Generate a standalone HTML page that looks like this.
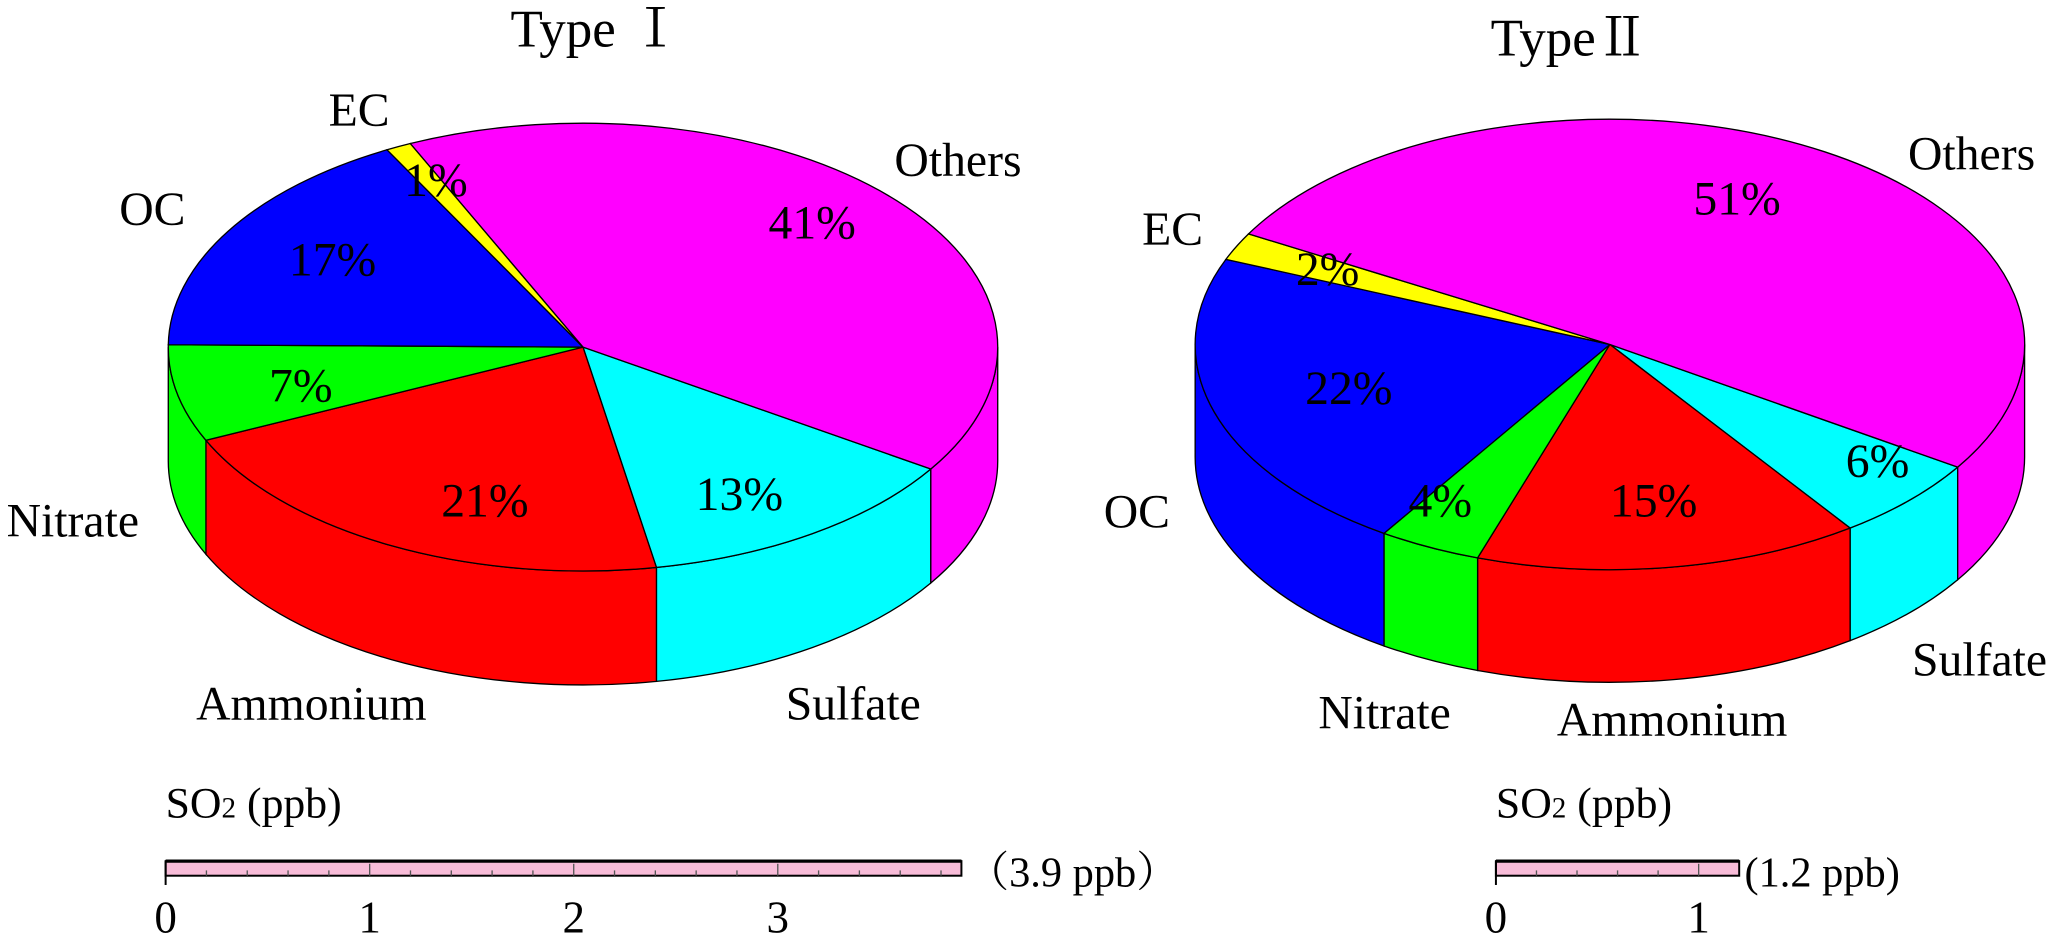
<!DOCTYPE html>
<html><head><meta charset="utf-8"><style>
html,body{margin:0;padding:0;background:#fff;}
svg{display:block;}
text{font-family:"Liberation Serif","Noto Serif CJK SC",serif;fill:#000;}
</style></head><body>
<svg id="chart" width="2067" height="934" viewBox="0 0 1560 705" preserveAspectRatio="none" xmlns="http://www.w3.org/2000/svg">
<g id="pies"></g>
<g id="labels" font-size="36"></g>
<g id="bars"></g>
</svg>
<script>
const categories = ["Sulfate","Ammonium","Nitrate","OC","EC","Others"];
const colors = ["#00ffff","#ff0000","#00ff00","#0000ff","#ffff00","#ff00ff"];
const type1Values = [13,21,7,17,1,41];
const type2Values = [6,15,4,22,2,51];
const so2Values = [3.9,1.2];
const so2Ticks1 = [0,1,2,3];
const so2Ticks2 = [0,1];

const NS="http://www.w3.org/2000/svg";
function mk(tag,attrs,parent){const e=document.createElementNS(NS,tag);for(const k in attrs)e.setAttribute(k,attrs[k]);parent.appendChild(e);return e;}
const pies=document.getElementById('pies');
const labels=document.getElementById('labels');
const bars=document.getElementById('bars');

function drawPie(id,values,cx,cy,rx,ry,depth,start){
  const g=mk('g',{},pies);
  
  
  const total=values.reduce((a,b)=>a+b,0);
  const P=(a,d)=>[cx+rx*Math.cos(a*Math.PI/180), cy+ry*Math.sin(a*Math.PI/180)+(d||0)];
  let angs=[];let a=start;
  values.forEach(v=>{const a1=a+v/total*360;angs.push([a,a1]);a=a1;});
  angs.forEach((r,i)=>{
    for(const off of [0,360]){
      let s=Math.max(r[0]-off,0), e=Math.min(r[1]-off,180);
      if(e<=s) continue;
      const p0=P(s),p1=P(e),q1=P(e,depth),q0=P(s,depth);
      const large=(e-s)>180?1:0;
      const d=`M${p0[0]},${p0[1]} A${rx},${ry} 0 ${large} 1 ${p1[0]},${p1[1]} L${q1[0]},${q1[1]} A${rx},${ry} 0 ${large} 0 ${q0[0]},${q0[1]} Z`;
      const p=mk('path',{d:d,fill:colors[i],stroke:'#000','stroke-width':1},g);
      
      
    }
  });
  angs.forEach((r,i)=>{
    const p0=P(r[0]),p1=P(r[1]);
    const large=(r[1]-r[0])>180?1:0;
    const d=`M${cx},${cy} L${p0[0]},${p0[1]} A${rx},${ry} 0 ${large} 1 ${p1[0]},${p1[1]} Z`;
    const p=mk('path',{d:d,fill:colors[i],stroke:'#000','stroke-width':1},g);
    
    
  });
}
drawPie('pie-type-1',type1Values,440,262,313,169,86,33);
drawPie('pie-type-2',type2Values,1215,260,313,170,85,33);

function txt(s,x,y,name,size,anchor){
  const t=mk('text',{x:x,y:y},labels);
  if(size)t.setAttribute('font-size',size);
  if(anchor)t.setAttribute('text-anchor',anchor);
  t.textContent=s;
  
  
  return t;
}
txt('Type Ⅰ',450,35,'title-type-1',40,'middle');
txt('TypeⅡ',1125,42,'title-type-2',40);
const L1=[["EC",248,95],["Others",675,133],["OC",90,170],["Nitrate",5,405],["Ammonium",148,543],["Sulfate",593,543]];
const P1=[[type1Values[5]+'%',580,180],[type1Values[4]+'%',305,148],[type1Values[3]+'%',218,208],[type1Values[2]+'%',203,303],[type1Values[1]+'%',333,390],[type1Values[0]+'%',525,385]];
const L2=[["Others",1440,128],["EC",862,185],["OC",833,398],["Sulfate",1443,510],["Nitrate",995,550],["Ammonium",1175,555]];
const P2=[[type2Values[5]+'%',1278,162],[type2Values[4]+'%',978,215],[type2Values[3]+'%',985,305],[type2Values[2]+'%',1063,390],[type2Values[1]+'%',1215,390],[type2Values[0]+'%',1393,360]];
L1.forEach(l=>txt(l[0],l[1],l[2],'type1-label-'+l[0].toLowerCase()));
P1.forEach((l,i)=>txt(l[0],l[1],l[2],'type1-percent-'+i));
L2.forEach(l=>txt(l[0],l[1],l[2],'type2-label-'+l[0].toLowerCase()));
P2.forEach((l,i)=>txt(l[0],l[1],l[2],'type2-percent-'+i));

function drawBar(id,val,ticks,x0,perUnit,y,labelText){
  const g=mk('g',{},bars);
  
  
  const xs=v=>x0+v*perUnit;
  const t=mk('text',{x:x0,y:y-33,'font-size':33},g);
  t.innerHTML='SO<tspan font-size="22">2</tspan> (ppb)';
  
  
  const r=mk('rect',{x:x0,y:y,width:xs(val)-x0,height:11,fill:'#f8bcd8',stroke:'#000','stroke-width':1.5},g);
  
  
  mk('line',{x1:x0,y1:y,x2:xs(val),y2:y,stroke:'#000','stroke-width':2.5},g);
  for(let v=0.2;v<val-0.05;v+=0.2){
    const big=Math.abs(v-Math.round(v))<0.01;
    mk('line',{x1:xs(v),y1:y+11,x2:xs(v),y2:y+(big?2:7),stroke:'#555','stroke-width':1},g);
  }
  mk('line',{x1:x0,y1:y,x2:x0,y2:y+18,stroke:'#000','stroke-width':1.5},g);
  ticks.forEach(v=>{
    const tt=mk('text',{x:xs(v),y:y+54,'font-size':34,'text-anchor':'middle'},g);
    tt.textContent=v;
    
    
  });
  const vl=mk('text',{x:xs(val)+4,y:y+19,'font-size':32},g);
  vl.textContent=labelText;
  
  
}
drawBar('so2-bar-type-1',so2Values[0],so2Ticks1,125,154,650,'（'+so2Values[0]+' ppb）');
drawBar('so2-bar-type-2',so2Values[1],so2Ticks2,1129,153,650,'(' +so2Values[1]+' ppb)');
</script>
</body></html>
